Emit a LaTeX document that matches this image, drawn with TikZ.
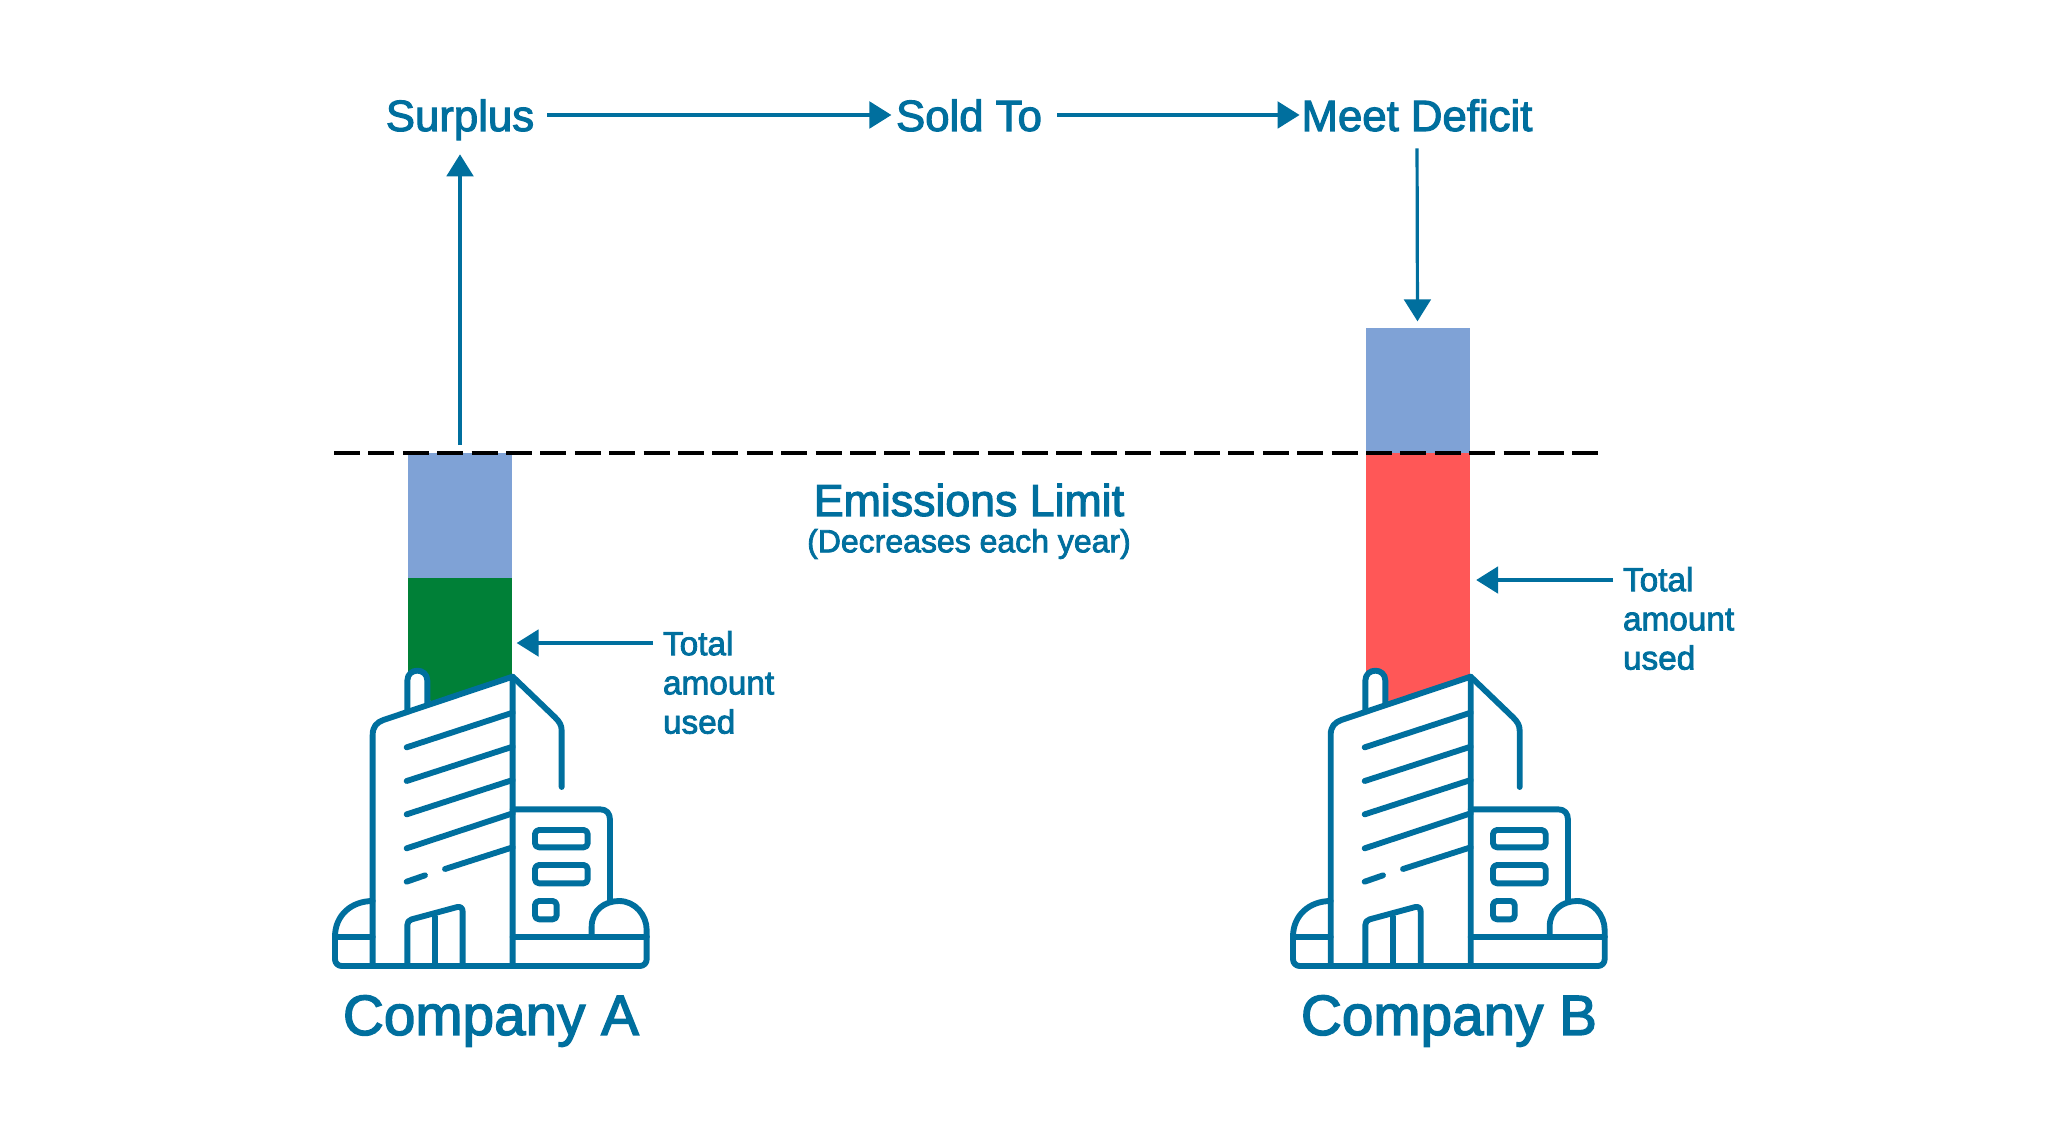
\documentclass[tikz,border=0pt]{standalone}
\usepackage{fontspec}
\usetikzlibrary{arrows.meta}
\setmainfont[RawFeature={embolden=2.5}]{Liberation Sans}
\definecolor{teal}{HTML}{006F9E}
\definecolor{barblue}{HTML}{7FA2D6}
\definecolor{bargreen}{HTML}{008037}
\definecolor{barred}{HTML}{FF5757}
\tikzset{
  txt/.style={text=teal,inner sep=0pt,outer sep=0pt},
  head/.style={txt,font=\fontsize{32.8}{36}\selectfont,text height=28pt,text depth=4pt},
  sub/.style={txt,font=\fontsize{25}{29.4}\selectfont,align=left,anchor=north west},
  co/.style={txt,font=\fontsize{42.5}{48}\selectfont},
  arr/.style={draw=teal,line width=2.4pt,-{Triangle[length=16.5pt,width=20pt]}},
  bar/.style={inner sep=0pt,outer sep=0pt,minimum width=78pt},
  bldg/.style={draw=teal,line width=4.4pt,line cap=round,line join=round},
  building/.pic={
    \begin{scope}[x=.25pt,y=-.25pt]
      \fill[white,rounded corners=8pt] (158,975) -- (158,240) -- (262,215) -- (262,90) -- (322,90) -- (322,195) -- (578,110) -- (578,975) -- cycle;
      \fill[white] (578,508) rectangle (870,975);
      \path[bldg] (158,970) -- (158,285) .. controls (158,260) and (170,247) .. (190,240) -- (578,110) -- (578,975);
      \path[bldg] (578,110) -- (705,232) .. controls (718,245) and (725,255) .. (725,272) -- (725,441);
      \path[bldg] (262,212) -- (262,122) .. controls (262,82) and (322,82) .. (322,122) -- (322,192);
      \path[bldg] (578,508) -- (840,508) .. controls (860,508) and (870,520) .. (870,540) -- (870,782);
      \path[bldg,rounded corners=5pt] (45,890) -- (45,978) -- (980,978) -- (980,890);
      \path[bldg] (45,890) -- (158,890) (578,890) -- (980,890);
      \path[bldg] (45,890) .. controls (45,825) and (95,783) .. (158,783);
      \path[bldg] (815,890) -- (815,860) .. controls (815,810) and (855,783) .. (897,783) .. controls (945,783) and (980,825) .. (980,870) -- (980,890);
      \path[bldg,rounded corners=3pt] (645,570) rectangle (803,622);
      \path[bldg,rounded corners=3pt] (645,675) rectangle (803,730);
      \path[bldg,rounded corners=3pt] (645,783) rectangle (710,838);
      \path[bldg] (260,322) -- (578,218) (260,423) -- (578,320) (260,523) -- (578,420) (260,625) -- (578,520) (260,725) -- (315,706) (375,687) -- (578,622);
      \path[bldg] (262,975) -- (262,855) .. controls (262,845) and (266,842) .. (275,838) -- (412,801) .. controls (422,799) and (428,805) .. (428,815) -- (428,975);
      \path[bldg] (345,830) -- (345,975);
    \end{scope}
  }
}
\begin{document}
\begin{tikzpicture}[x=.75pt,y=-.75pt]
\useasboundingbox (0,0) rectangle (2048,1148);
% bars
\node[bar,fill=barblue,minimum height=93.75pt] (ablue) at (460,515.5) {};
\node[bar,fill=bargreen,minimum height=105pt] (agreen) at (460,648) {};
\node[bar,fill=barblue,minimum height=93.75pt] (bblue) at (1417.5,390.5) {};
\node[bar,fill=barred,minimum height=197pt] (bred) at (1417.5,584) {};
% limit line
\coordinate (l1) at (334,453);
\coordinate (l2) at (1605,453);
\draw[black,line width=2.6pt,dash pattern=on 19.5pt off 6.3pt] (l1) -- (l2);
% buildings
\pic at (320,640) {building};
\pic at (1278,640) {building};
% texts
\node[head] (surplus) at (460,115) {Surplus};
\node[head] (sold) at (969,115) {Sold To};
\node[head] (meet) at (1417,115) {Meet Deficit};
\node[txt,font=\fontsize{33.5}{38}\selectfont] (limit) at (969,500) {Emissions Limit};
\node[txt,font=\fontsize{24}{28}\selectfont] (dec) at (969,544) {(Decreases each year)};
\node[sub] (ta) at (663,631) {Total\\amount\\used};
\node[sub] (tb) at (1623,567) {Total\\amount\\used};
\node[co] (ca) at (491,1021) {Company A};
\node[co] (cb) at (1449,1021) {Company B};
% connectors
\coordinate (ata) at (653,643);
\coordinate (atb) at (1613,580);
\coordinate (aup) at (460,445);
\draw[arr,shorten <=10pt,shorten >=3.5pt] (surplus.east) -- (sold.west);
\draw[arr,shorten <=11.5pt,shorten >=1.5pt] (sold.east) -- (meet.west);
\draw[arr,shorten >=13.5pt] (aup) -- (surplus.south);
\draw[arr,shorten <=9pt,shorten >=5pt] (meet.south) -- (bblue.north);
\draw[arr,shorten >=3.5pt] (ata) -- (agreen.east |- ata);
\draw[arr,shorten >=5pt] (atb) -- (bred.east |- atb);
\end{tikzpicture}
\end{document}
